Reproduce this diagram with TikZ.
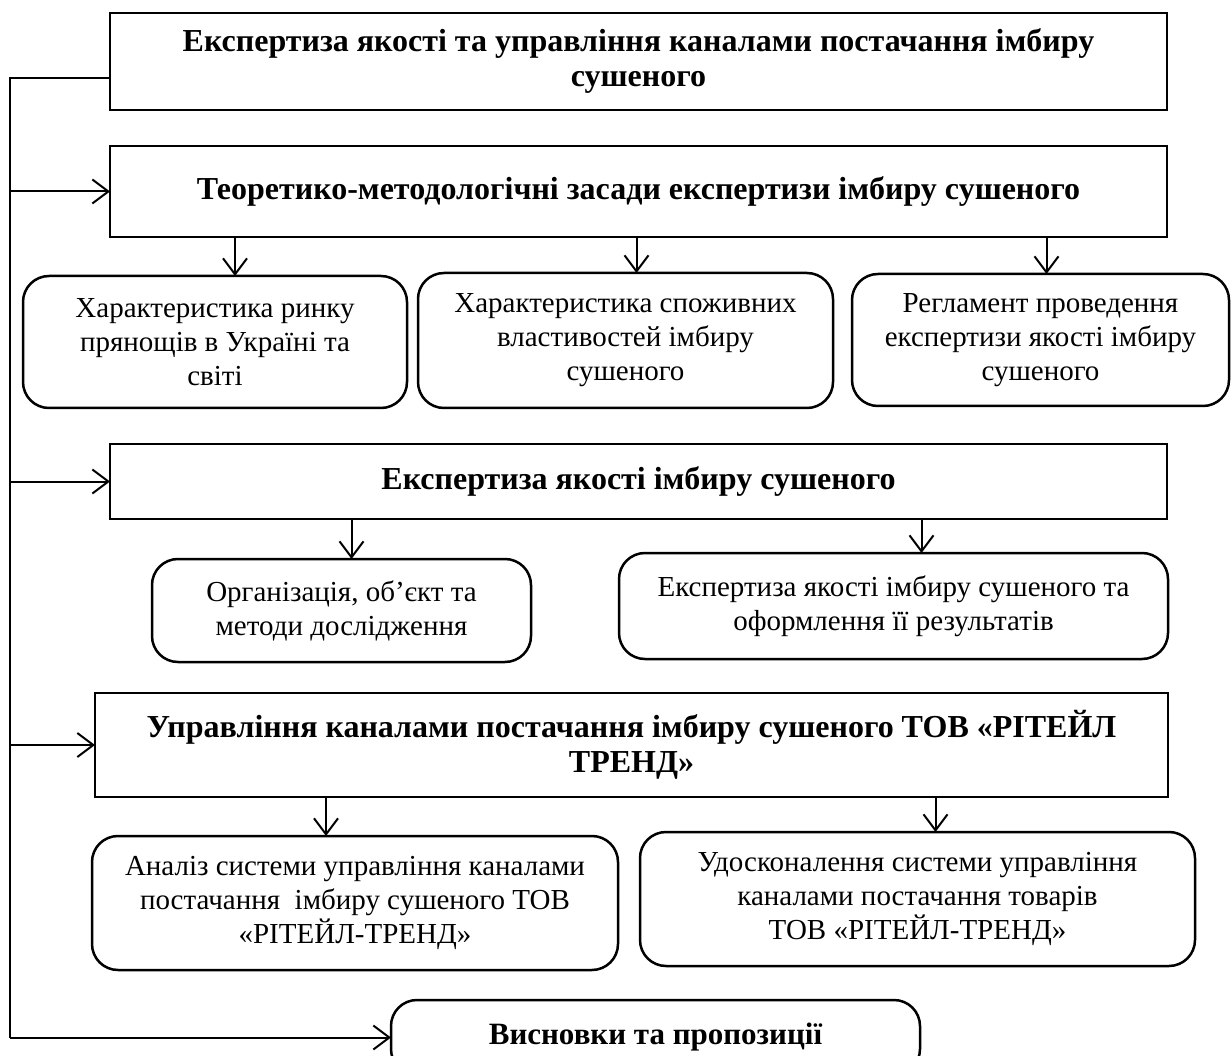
\documentclass[tikz,border=0pt]{standalone}
\usepackage{fontspec}
\setmainfont{Liberation Serif}
\usetikzlibrary{arrows.meta}

\begin{document}
\begin{tikzpicture}[
    x=1pt, y=-1pt,
    every node/.style={align=center, inner sep=0pt, outer sep=0pt, font=\fontsize{29}{34}\selectfont},
    section/.style={draw, rectangle, line width=2.5pt, font=\fontsize{32}{35}\selectfont\bfseries},
    topic/.style={draw, rectangle, rounded corners=26pt, line width=2.5pt},
    final/.style={topic, font=\fontsize{31}{35}\selectfont\bfseries},
    link/.style={line width=2pt, -{Straight Barb[length=16pt, width=24pt, line width=2pt]}}
]
    \useasboundingbox (0,0) rectangle (1232,1056);

    % Title
    \node[section, minimum width=1057pt, minimum height=97pt] (title) at (638.5,61.5)
        {Експертиза якості та управління каналами постачання імбиру \\ сушеного};

    % Theory part
    \node[section, minimum width=1057pt, minimum height=91pt] (theory) at (638.5,191.5)
        {Теоретико-методологічні засади експертизи імбиру сушеного};
    \node[topic, minimum width=384pt, minimum height=132pt] (market) at (215,342)
        {Характеристика ринку \\ прянощів в Україні та \\ світі};
    \node[topic, minimum width=415pt, minimum height=135pt] (props) at (625.5,340.5)
        {Характеристика споживних \\ властивостей імбиру \\ сушеного};
    \node[topic, minimum width=377pt, minimum height=132pt] (rules) at (1040.5,340)
        {Регламент проведення \\ експертизи якості імбиру \\ сушеного};

    % Quality expertise
    \node[section, minimum width=1057pt, minimum height=75pt] (quality) at (638.5,481.5)
        {Експертиза якості імбиру сушеного};
    \node[topic, minimum width=379pt, minimum height=103pt] (methods) at (341.5,610.5)
        {Організація, об’єкт та \\ методи дослідження};
    \node[topic, minimum width=549pt, minimum height=106pt] (results) at (893.5,606)
        {Експертиза якості імбиру сушеного та \\ оформлення її результатів};

    % Supply channels
    \node[section, minimum width=1073pt, minimum height=104pt] (channels) at (631.5,745)
        {Управління каналами постачання імбиру сушеного ТОВ «РІТЕЙЛ \\ ТРЕНД»};
    \node[topic, minimum width=526pt, minimum height=134pt] (analysis) at (355,903)
        {Аналіз системи управління каналами \\ постачання\ \ імбиру сушеного ТОВ \\ «РІТЕЙЛ-ТРЕНД»};
    \node[topic, minimum width=555pt, minimum height=134pt] (improve) at (917.5,899)
        {Удосконалення системи управління \\ каналами постачання товарів \\ ТОВ «РІТЕЙЛ-ТРЕНД»};

    % Conclusions
    \node[final, minimum width=529pt, minimum height=75pt] (concl) at (655.5,1037.5)
        {Висновки та пропозиції};

    % Left rail
    \coordinate (rail) at (10,78);
    \draw[line width=2pt] (title.west |- rail) -- (rail) -- (rail |- concl.west);
    \draw[link] (rail |- theory.west) -- (theory.west);
    \draw[link] (rail |- quality.west) -- (quality.west);
    \draw[link] (rail |- channels.west) -- (channels.west);
    \draw[link] (rail |- concl.west) -- (concl.west);

    % Arrows
    \draw[link] ([xshift=20pt]market.north |- theory.south) -- ([xshift=20pt]market.north);
    \draw[link] ([xshift=11pt]props.north |- theory.south) -- ([xshift=11pt]props.north);
    \draw[link] ([xshift=6pt]rules.north |- theory.south) -- ([xshift=6pt]rules.north);
    \draw[link] ([xshift=10pt]methods.north |- quality.south) -- ([xshift=10pt]methods.north);
    \draw[link] ([xshift=28pt]results.north |- quality.south) -- ([xshift=28pt]results.north);
    \draw[link] ([xshift=-29pt]analysis.north |- channels.south) -- ([xshift=-29pt]analysis.north);
    \draw[link] ([xshift=18pt]improve.north |- channels.south) -- ([xshift=18pt]improve.north);

\end{tikzpicture}
\end{document}
